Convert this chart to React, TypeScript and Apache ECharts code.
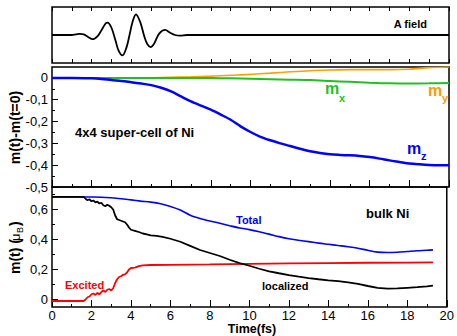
import React, { useEffect, useRef } from "react";
import * as echarts from "echarts";

// ---- Data ----
const fieldTime = [0, 1.0, 1.2, 1.4, 1.6, 1.8, 2.05, 2.3, 2.5, 2.7, 2.8, 3.0, 3.2, 3.35, 3.55, 3.75, 3.9, 4.05, 4.23, 4.45, 4.65, 4.8, 4.97, 5.15, 5.4, 5.7, 5.95, 6.2, 6.45, 6.8, 20];
const fieldA = [0, 0, 0.02, 0.04, 0.02, -0.06, -0.15, -0.04, 0.18, 0.41, 0.44, 0.25, -0.2, -0.55, -0.73, -0.45, -0.02, 0.45, 0.74, 0.45, -0.05, -0.32, -0.43, -0.3, 0.05, 0.18, 0.08, 0.0, -0.02, 0, 0];

const mzTime = [0, 1, 2, 2.5, 3, 3.5, 4, 4.5, 5, 5.5, 6, 6.5, 7, 7.5, 8, 8.5, 9, 9.5, 10, 10.5, 11, 11.5, 12, 12.5, 13, 13.5, 14, 14.5, 15, 15.5, 16, 16.5, 17, 17.5, 18, 18.5, 19, 19.5, 20];
const mz = [0, 0, -0.002, -0.005, -0.01, -0.014, -0.02, -0.026, -0.033, -0.045, -0.062, -0.085, -0.108, -0.127, -0.145, -0.168, -0.192, -0.222, -0.248, -0.27, -0.286, -0.3, -0.312, -0.325, -0.336, -0.344, -0.35, -0.353, -0.355, -0.358, -0.363, -0.37, -0.378, -0.385, -0.392, -0.396, -0.399, -0.4, -0.4];

const mxTime = [0, 8, 9, 10, 11, 12, 13, 14, 15, 16, 17, 18, 19, 20];
const mx = [0, 0, -0.002, -0.004, -0.006, -0.008, -0.01, -0.014, -0.018, -0.022, -0.025, -0.026, -0.025, -0.023];

const myTime = [0, 4, 5, 6, 7, 8, 8.5, 9, 10, 11, 12, 13, 14, 15, 16, 17, 18, 19, 20];
const my = [0, 0, 0.001, 0.003, 0.005, 0.008, 0.01, 0.012, 0.016, 0.022, 0.028, 0.033, 0.036, 0.038, 0.038, 0.038, 0.04, 0.047, 0.05];

const totalTime = [0, 1, 2, 2.5, 3, 3.5, 4, 4.5, 5, 5.5, 6, 6.5, 7, 7.5, 8, 8.5, 9, 9.5, 10, 10.5, 11, 11.5, 12, 12.5, 13, 13.5, 14, 14.5, 15, 15.5, 16, 16.5, 17, 17.5, 18, 18.5, 19, 19.3];
const total = [0.684, 0.684, 0.683, 0.682, 0.678, 0.672, 0.664, 0.656, 0.649, 0.638, 0.62, 0.596, 0.562, 0.54, 0.523, 0.508, 0.492, 0.477, 0.466, 0.452, 0.436, 0.419, 0.405, 0.395, 0.386, 0.376, 0.368, 0.36, 0.352, 0.342, 0.328, 0.316, 0.313, 0.315, 0.32, 0.325, 0.328, 0.331];

const locTime = [0, 1.6, 1.7, 1.8, 1.9, 2.0, 2.1, 2.2, 2.3, 2.4, 2.5, 2.6, 2.7, 2.8, 2.9, 3.0, 3.1, 3.2, 3.3, 3.4, 3.5, 3.6, 3.7, 3.8, 3.9, 4.0, 4.2, 4.4, 4.6, 4.8, 5.0, 5.3, 5.6, 6.0, 6.5, 7.0, 7.5, 8.0, 8.5, 9.0, 9.5, 10, 10.5, 11, 11.5, 12, 12.5, 13, 13.5, 14, 14.5, 15, 15.5, 16, 16.5, 17, 17.5, 18, 18.5, 19, 19.3];
const localized = [0.684, 0.684, 0.672, 0.662, 0.668, 0.655, 0.66, 0.648, 0.652, 0.64, 0.645, 0.628, 0.622, 0.632, 0.625, 0.615, 0.6, 0.56, 0.535, 0.53, 0.525, 0.52, 0.515, 0.5, 0.48, 0.465, 0.458, 0.45, 0.44, 0.434, 0.428, 0.424, 0.418, 0.405, 0.385, 0.358, 0.33, 0.31, 0.29, 0.265, 0.243, 0.225, 0.205, 0.188, 0.175, 0.163, 0.152, 0.143, 0.135, 0.128, 0.122, 0.114, 0.104, 0.09, 0.078, 0.073, 0.074, 0.078, 0.082, 0.088, 0.093];

const excTime = [0, 1.6, 1.7, 1.8, 1.9, 2.0, 2.1, 2.2, 2.3, 2.4, 2.5, 2.6, 2.7, 2.8, 2.9, 3.0, 3.1, 3.2, 3.3, 3.4, 3.5, 3.6, 3.7, 3.8, 3.9, 4.0, 4.2, 4.4, 4.6, 5.0, 6, 8, 10, 12, 14, 16, 18, 19.3];
const excited = [-0.01, -0.01, 0.0, 0.015, 0.02, 0.035, 0.04, 0.03, 0.045, 0.033, 0.05, 0.06, 0.05, 0.065, 0.07, 0.06, 0.075, 0.11, 0.135, 0.15, 0.155, 0.165, 0.168, 0.18, 0.2, 0.21, 0.212, 0.222, 0.228, 0.23, 0.231, 0.234, 0.238, 0.241, 0.243, 0.245, 0.246, 0.247];

const xTickLabels = [0, 2, 4, 6, 8, 10, 12, 14, 16, 18, 20];
const midMajor = [-0.5, -0.4, -0.3, -0.2, -0.1, 0];
const midMinor = [-0.45, -0.35, -0.25, -0.15, -0.05];
const botMajor = [0, 0.2, 0.4, 0.6];
const botMinor = [0.1, 0.3, 0.5, 0.7];

const FONT = "'Liberation Sans', Arial, Helvetica, sans-serif";
const zip = (t: number[], v: number[]) => t.map((x, i) => [x, v[i]]);
const fmt = (v: number) => {
  const r = Math.round(v * 100) / 100;
  return (r === 0 ? "0" : String(r)).replace(".", ",");
};

export default function App() {
  const ref = useRef<HTMLDivElement>(null);
  useEffect(() => {
    if (!ref.current) return;
    const chart = echarts.init(ref.current, null, { renderer: "svg" });
    const L = 52, W = 397;
    const grid = [
      { left: L, top: 7, width: W, height: 56 },
      { left: L, top: 67, width: W, height: 120 },
      { left: L, top: 187, width: W, height: 120 },
    ].map((g) => ({ ...g, show: true, borderColor: "#000", borderWidth: 1.5, backgroundColor: "transparent" }));

    const baseX = (gi: number, pos: string, extra: any) => ({
      type: "value", gridIndex: gi, position: pos, min: 0, max: 20,
      axisLine: { show: false, onZero: false },
      splitLine: { show: false },
      ...extra,
    });

    const xAxis = [
      baseX(0, "bottom", { interval: 1, axisTick: { show: true, inside: true, length: 4, lineStyle: { color: "#000", width: 1 } }, axisLabel: { show: false } }),
      baseX(0, "top", { interval: 1, axisTick: { show: true, inside: true, length: 4, lineStyle: { color: "#000", width: 1 } }, axisLabel: { show: false } }),
      baseX(1, "bottom", {
        interval: 2,
        axisTick: { show: true, inside: true, length: 7, lineStyle: { color: "#000", width: 1 } },
        minorTick: { show: true, splitNumber: 2, length: 3, lineStyle: { color: "#000", width: 1 } },
        axisLabel: { show: false },
      }),
      baseX(2, "bottom", {
        interval: 2,
        axisTick: { show: true, inside: true, length: 7, lineStyle: { color: "#000", width: 1 } },
        minorTick: { show: true, splitNumber: 2, length: 3, lineStyle: { color: "#000", width: 1 } },
        axisLabel: { show: true, margin: 2, fontSize: 13, color: "#000", fontFamily: FONT, customValues: xTickLabels, formatter: (v: number) => String(v) },
      }),
    ];

    const yAxis = [
      { type: "value", gridIndex: 0, min: -1, max: 1, axisLine: { show: false }, axisTick: { show: false }, axisLabel: { show: false }, splitLine: { show: false } },
      {
        type: "value", gridIndex: 1, position: "left", min: -0.5, max: 0.05,
        axisLine: { show: false }, splitLine: { show: false },
        axisTick: { show: true, inside: true, length: 6, customValues: midMajor, lineStyle: { color: "#000" } },
        axisLabel: { show: true, margin: 4, fontSize: 13, color: "#000", fontFamily: FONT, customValues: midMajor, formatter: fmt },
      },
      {
        type: "value", gridIndex: 1, position: "left", min: -0.5, max: 0.05,
        axisLine: { show: false }, splitLine: { show: false }, axisLabel: { show: false },
        axisTick: { show: true, inside: true, length: 3, customValues: midMinor, lineStyle: { color: "#000" } },
      },
      {
        type: "value", gridIndex: 2, position: "left", min: -0.05, max: 0.75,
        axisLine: { show: false }, splitLine: { show: false },
        axisTick: { show: true, inside: true, length: 6, customValues: botMajor, lineStyle: { color: "#000" } },
        axisLabel: { show: true, margin: 4, fontSize: 13, color: "#000", fontFamily: FONT, customValues: botMajor, formatter: fmt },
      },
      {
        type: "value", gridIndex: 2, position: "left", min: -0.05, max: 0.75,
        axisLine: { show: false }, splitLine: { show: false }, axisLabel: { show: false },
        axisTick: { show: true, inside: true, length: 3, customValues: botMinor, lineStyle: { color: "#000" } },
      },
    ];

    const line = (name: string, xi: number, yi: number, data: number[][], color: string, width: number, smooth: any = false) => ({
      name, type: "line", xAxisIndex: xi, yAxisIndex: yi, data, showSymbol: false, symbol: "none", smooth,
      lineStyle: { color, width }, itemStyle: { color },
    });

    const series = [
      line("A field", 0, 0, zip(fieldTime, fieldA), "#000", 1.8, 0.35),
      line("my", 2, 1, zip(myTime, my), "#ffa000", 1.6, 0.3),
      line("mx", 2, 1, zip(mxTime, mx), "#1ec21e", 2, 0.3),
      line("mz", 2, 1, zip(mzTime, mz), "#0000ff", 2.5, 0.3),
      line("Total", 3, 3, zip(totalTime, total), "#0000ff", 1.6, 0.3),
      line("Excited", 3, 3, zip(excTime, excited), "#ff0000", 1.8, false),
      line("localized", 3, 3, zip(locTime, localized), "#000", 1.8, false),
    ];

    const txt = (text: string, x: number, y: number, size: number, color: string, align = "left", weight = "bold", extra: any = {}) => ({
      type: "text", x, y, ...extra,
      style: { text, fill: color, fontSize: size, fontWeight: weight, fontFamily: FONT, align, verticalAlign: "middle" },
    });

    const graphic = [
      txt("A field", 427, 24, 11, "#000", "right"),
      txt("4x4 super-cell of Ni", 75, 132, 13, "#000"),
      txt("m", 325, 88.5, 16, "#1ec21e"),
      txt("x", 339, 97.5, 11, "#1ec21e"),
      txt("m", 428, 90, 16, "#ff9900"),
      txt("y", 442, 98, 11, "#ff9900"),
      txt("m", 407, 148.5, 16, "#0000ff"),
      txt("z", 421, 156, 11, "#0000ff"),
      txt("bulk Ni", 366, 213, 13, "#000"),
      txt("Total", 236, 220, 11, "#0000ff"),
      txt("localized", 262, 286, 11, "#000"),
      txt("Excited", 65, 285, 11, "#ff0000"),
      txt("Time(fs)", 252, 329.3, 12.5, "#000", "center"),
      txt("m(t)-m(t=0)", 15, 127.5, 14, "#000", "center", "bold", { rotation: Math.PI / 2 }),
      {
        type: "group", x: 15, y: 246, rotation: Math.PI / 2,
        children: [
          { type: "text", x: -28, y: 0, style: { text: "m(t) (", fill: "#000", fontSize: 14, fontWeight: "bold", fontFamily: FONT, align: "left", verticalAlign: "middle" } },
          { type: "text", x: 5, y: 0, style: { text: "μ", fill: "#000", fontSize: 13, fontWeight: "normal", fontFamily: FONT, align: "left", verticalAlign: "middle" } },
          { type: "text", x: 13, y: 5, style: { text: "B", fill: "#000", fontSize: 9, fontWeight: "normal", fontFamily: FONT, align: "left", verticalAlign: "middle" } },
          { type: "text", x: 20, y: 0, style: { text: ")", fill: "#000", fontSize: 14, fontWeight: "bold", fontFamily: FONT, align: "left", verticalAlign: "middle" } },
        ],
      },
    ];

    chart.setOption({
      animation: false,
      backgroundColor: "#fff",
      textStyle: { fontFamily: FONT },
      grid, xAxis, yAxis, series, graphic,
    });
    return () => chart.dispose();
  }, []);
  return <div ref={ref} style={{ position: "absolute", left: 0, top: 0, width: 457, height: 336 }} />;
}
